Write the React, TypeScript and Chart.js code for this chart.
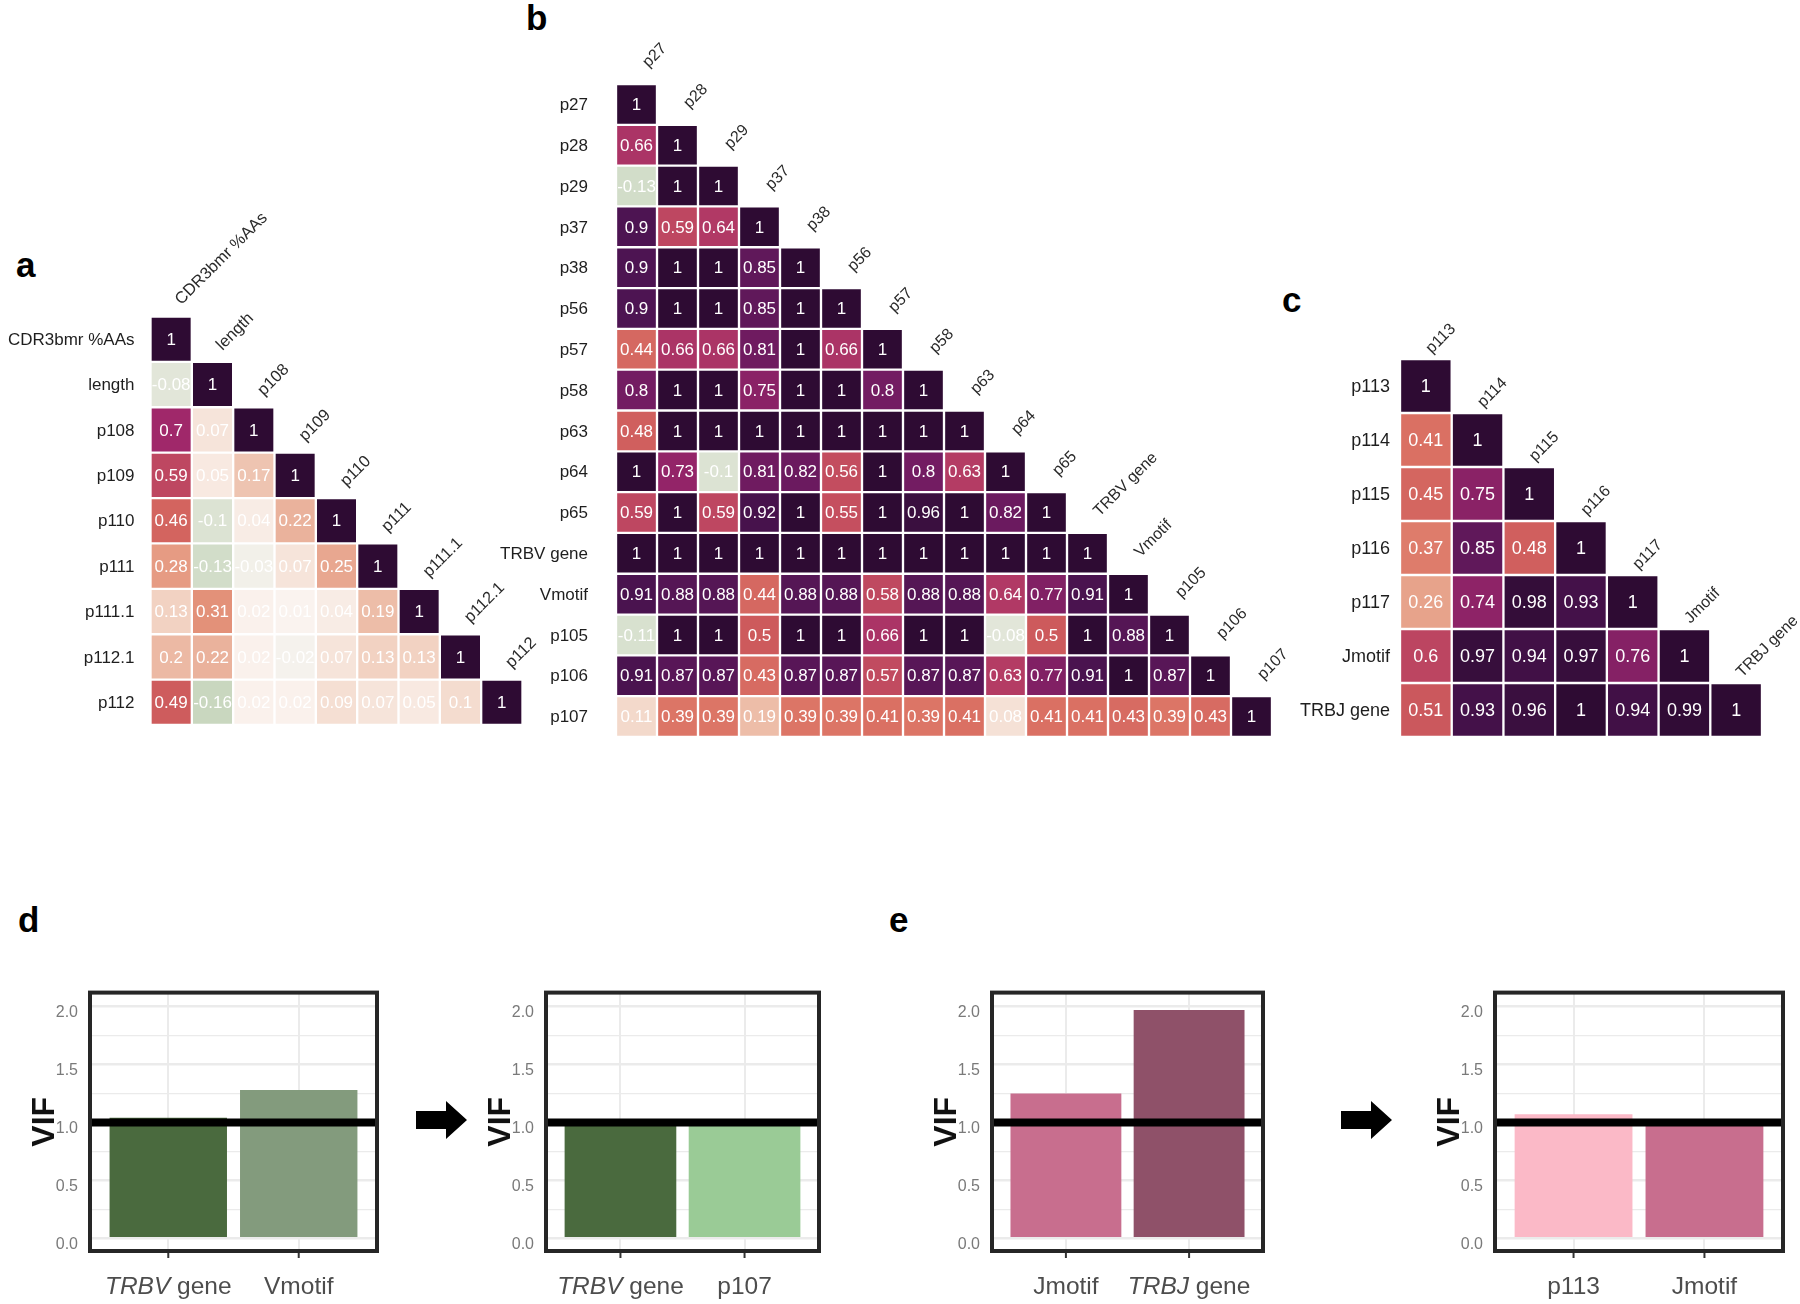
import React, { useEffect, useRef } from 'react';
import { Chart, registerables } from 'chart.js';
Chart.register(...registerables);

const FONT = '"Liberation Sans", Arial, Helvetica, sans-serif';

// ---------- Panel a ----------
const aVars = ['CDR3bmr %AAs', 'length', 'p108', 'p109', 'p110', 'p111', 'p111.1', 'p112.1', 'p112'];
const aCorr = [
  [1],
  [-0.08, 1],
  [0.7, 0.07, 1],
  [0.59, 0.05, 0.17, 1],
  [0.46, -0.1, 0.04, 0.22, 1],
  [0.28, -0.13, -0.03, 0.07, 0.25, 1],
  [0.13, 0.31, 0.02, 0.01, 0.04, 0.19, 1],
  [0.2, 0.22, 0.02, -0.02, 0.07, 0.13, 0.13, 1],
  [0.49, -0.16, 0.02, 0.02, 0.09, 0.07, 0.05, 0.1, 1],
];

// ---------- Panel b ----------
const bVars = ['p27', 'p28', 'p29', 'p37', 'p38', 'p56', 'p57', 'p58', 'p63', 'p64', 'p65', 'TRBV gene', 'Vmotif', 'p105', 'p106', 'p107'];
const bCorr = [
  [1],
  [0.66, 1],
  [-0.13, 1, 1],
  [0.9, 0.59, 0.64, 1],
  [0.9, 1, 1, 0.85, 1],
  [0.9, 1, 1, 0.85, 1, 1],
  [0.44, 0.66, 0.66, 0.81, 1, 0.66, 1],
  [0.8, 1, 1, 0.75, 1, 1, 0.8, 1],
  [0.48, 1, 1, 1, 1, 1, 1, 1, 1],
  [1, 0.73, -0.1, 0.81, 0.82, 0.56, 1, 0.8, 0.63, 1],
  [0.59, 1, 0.59, 0.92, 1, 0.55, 1, 0.96, 1, 0.82, 1],
  [1, 1, 1, 1, 1, 1, 1, 1, 1, 1, 1, 1],
  [0.91, 0.88, 0.88, 0.44, 0.88, 0.88, 0.58, 0.88, 0.88, 0.64, 0.77, 0.91, 1],
  [-0.11, 1, 1, 0.5, 1, 1, 0.66, 1, 1, -0.08, 0.5, 1, 0.88, 1],
  [0.91, 0.87, 0.87, 0.43, 0.87, 0.87, 0.57, 0.87, 0.87, 0.63, 0.77, 0.91, 1, 0.87, 1],
  [0.11, 0.39, 0.39, 0.19, 0.39, 0.39, 0.41, 0.39, 0.41, 0.08, 0.41, 0.41, 0.43, 0.39, 0.43, 1],
];

// ---------- Panel c ----------
const cVars = ['p113', 'p114', 'p115', 'p116', 'p117', 'Jmotif', 'TRBJ gene'];
const cCorr = [
  [1],
  [0.41, 1],
  [0.45, 0.75, 1],
  [0.37, 0.85, 0.48, 1],
  [0.26, 0.74, 0.98, 0.93, 1],
  [0.6, 0.97, 0.94, 0.97, 0.76, 1],
  [0.51, 0.93, 0.96, 1, 0.94, 0.99, 1],
];

// ---------- Panels d / e (VIF) ----------
const dBeforeLabels = ['TRBV gene', 'Vmotif'];
const dBeforeVIF = [1.04, 1.28];
const dAfterLabels = ['TRBV gene', 'p107'];
const dAfterVIF = [1.02, 1.02];
const eBeforeLabels = ['Jmotif', 'TRBJ gene'];
const eBeforeVIF = [1.25, 1.97];
const eAfterLabels = ['p113', 'Jmotif'];
const eAfterVIF = [1.07, 1.02];
const REF_VIF = 1.0;
const ITALIC_WORDS = ['TRBV', 'TRBJ'];

const dBeforeColors = ['#4a6a3e', '#839b7d'];
const dAfterColors = ['#4a6a3e', '#9acb96'];
const eBeforeColors = ['#c86e8e', '#8f5169'];
const eAfterColors = ['#fbb9c7', '#c86e8e'];

const COLOR_STOPS: [number, string][] = [
  [-0.2, '#bccfb2'],
  [0, '#fbf6f3'],
  [0.1, '#f4dccf'],
  [0.2, '#ecb9a4'],
  [0.3, '#e4947b'],
  [0.4, '#db7264'],
  [0.5, '#cd5a5c'],
  [0.6, '#bc4561'],
  [0.7, '#a0286a'],
  [0.8, '#731c62'],
  [0.9, '#4d1452'],
  [1, '#2e0b33'],
];

function hexToRgb(h: string) {
  const n = parseInt(h.slice(1), 16);
  return [(n >> 16) & 255, (n >> 8) & 255, n & 255];
}
function corrColor(v: number) {
  const s = COLOR_STOPS;
  if (v <= s[0][0]) return s[0][1];
  for (let i = 1; i < s.length; i++) {
    if (v <= s[i][0]) {
      const t = (v - s[i - 1][0]) / (s[i][0] - s[i - 1][0]);
      const a = hexToRgb(s[i - 1][1]);
      const b = hexToRgb(s[i][1]);
      const c = a.map((x, k) => Math.round(x + (b[k] - x) * t));
      return `rgb(${c[0]},${c[1]},${c[2]})`;
    }
  }
  return s[s.length - 1][1];
}

type Box = { left: number; top: number; width: number; height: number };
type Area = { left: number; top: number; right: number; bottom: number };
type Style = { value: number; row: number; col: number; rowGap: number; colDx: number; colDy: number };

function Heatmap({ vars, corr, box, area, st }: { vars: string[]; corr: number[][]; box: Box; area: Area; st: Style }) {
  const ref = useRef<HTMLCanvasElement>(null);
  useEffect(() => {
    const data: any[] = [];
    corr.forEach((row, r) => row.forEach((v, c) => data.push({ x: vars[c], y: [r - 0.5, r + 0.5], v })));
    const plugin = {
      id: 'heatText',
      afterDatasetsDraw(chart: any) {
        const ctx = chart.ctx;
        const meta = chart.getDatasetMeta(0);
        const xs = chart.scales.x;
        const ys = chart.scales.y;
        const ca = chart.chartArea;
        ctx.save();
        ctx.fillStyle = '#ffffff';
        ctx.textAlign = 'center';
        ctx.textBaseline = 'middle';
        ctx.font = `${st.value}px ${FONT}`;
        meta.data.forEach((el: any, i: number) => {
          const raw = chart.data.datasets[0].data[i];
          const p = el.getProps(['x', 'y', 'base'], true);
          ctx.fillText(String(raw.v), p.x, (p.y + p.base) / 2 + 1);
        });
        ctx.fillStyle = '#1e1e1e';
        ctx.textAlign = 'right';
        ctx.font = `${st.row}px ${FONT}`;
        vars.forEach((name, r) => ctx.fillText(name, ca.left - st.rowGap, ys.getPixelForValue(r) + 1));
        ctx.fillStyle = '#2a2a2a';
        ctx.font = `${st.col}px ${FONT}`;
        vars.forEach((name, c) => {
          const cx = xs.getPixelForValue(c);
          const top = ys.getPixelForValue(c - 0.5);
          ctx.save();
          ctx.translate(cx + st.colDx, top - st.colDy);
          ctx.rotate(-Math.PI / 4);
          ctx.textAlign = 'left';
          ctx.textBaseline = 'alphabetic';
          ctx.fillText(name, 0, 0);
          ctx.restore();
        });
        ctx.restore();
      },
    };
    const chart = new Chart(ref.current as HTMLCanvasElement, {
      type: 'bar',
      data: {
        labels: vars,
        datasets: [
          {
            data,
            backgroundColor: (c: any) => (c.raw ? corrColor(c.raw.v) : '#fff'),
            borderColor: '#ffffff',
            borderWidth: 1.5,
            borderSkipped: false,
            barPercentage: 1,
            categoryPercentage: 1,
          } as any,
        ],
      },
      options: {
        responsive: false,
        animation: false,
        devicePixelRatio: 1,
        layout: {
          padding: {
            left: area.left - box.left,
            top: area.top - box.top,
            right: box.left + box.width - area.right,
            bottom: box.top + box.height - area.bottom,
          },
        },
        plugins: { legend: { display: false }, tooltip: { enabled: false } },
        scales: {
          x: { type: 'category', offset: true, display: false },
          y: { type: 'linear', min: -0.5, max: vars.length - 0.5, reverse: true, display: false },
        },
      } as any,
      plugins: [plugin],
    });
    return () => chart.destroy();
  }, []);
  return (
    <canvas
      ref={ref}
      width={box.width}
      height={box.height}
      style={{ position: 'absolute', left: box.left, top: box.top, width: box.width, height: box.height }}
    />
  );
}

function VifChart({ labels, values, colors, area }: { labels: string[]; values: number[]; colors: string[]; area: Area }) {
  const ref = useRef<HTMLCanvasElement>(null);
  const yW = 64;
  const xH = 53;
  const pad = 6;
  const box = { left: area.left - yW, top: area.top - pad, width: area.right + pad - (area.left - yW), height: area.bottom + xH - (area.top - pad) };
  useEffect(() => {
    const plugin = {
      id: 'vifDecor',
      afterDatasetsDraw(chart: any) {
        const { ctx, chartArea: ca } = chart;
        const x = chart.scales.x;
        const y = chart.scales.y;
        ctx.save();
        const yr = y.getPixelForValue(REF_VIF);
        ctx.strokeStyle = '#000';
        ctx.lineWidth = 8;
        ctx.beginPath();
        ctx.moveTo(ca.left, yr);
        ctx.lineTo(ca.right, yr);
        ctx.stroke();
        ctx.strokeStyle = '#262626';
        ctx.lineWidth = 4;
        ctx.strokeRect(ca.left, ca.top, ca.right - ca.left, ca.bottom - ca.top);
        labels.forEach((lab, i) => {
          const px = x.getPixelForValue(i);
          ctx.strokeStyle = '#333';
          ctx.lineWidth = 2;
          ctx.beginPath();
          ctx.moveTo(px, ca.bottom + 2);
          ctx.lineTo(px, ca.bottom + 7);
          ctx.stroke();
          const parts = lab.split(' ');
          const italic = ITALIC_WORDS.includes(parts[0]);
          const first = italic ? parts[0] : lab;
          const rest = italic ? ' ' + parts.slice(1).join(' ') : '';
          const fI = `italic 24.5px ${FONT}`;
          const fR = `24.5px ${FONT}`;
          ctx.font = italic ? fI : fR;
          const w1 = ctx.measureText(first).width;
          ctx.font = fR;
          const w2 = rest ? ctx.measureText(rest).width : 0;
          const sx = px - (w1 + w2) / 2;
          const ty = ca.bottom + 36;
          ctx.fillStyle = '#4d4d4d';
          ctx.textBaseline = 'middle';
          ctx.textAlign = 'left';
          ctx.font = italic ? fI : fR;
          ctx.fillText(first, sx, ty);
          if (rest) {
            ctx.font = fR;
            ctx.fillText(rest, sx + w1, ty);
          }
        });
        ctx.restore();
      },
    };
    const chart = new Chart(ref.current as HTMLCanvasElement, {
      type: 'bar',
      data: {
        datasets: [
          {
            data: values.map((v, i) => ({ x: i, y: v })),
            backgroundColor: colors,
            borderWidth: 0,
            barPercentage: 0.9,
            categoryPercentage: 1,
          },
        ],
      },
      options: {
        responsive: false,
        animation: false,
        devicePixelRatio: 1,
        layout: { padding: { left: 0, top: pad, right: pad, bottom: 0 } },
        plugins: { legend: { display: false }, tooltip: { enabled: false } },
        scales: {
          x: {
            type: 'linear',
            min: -0.6,
            max: labels.length - 1 + 0.6,
            offset: false,
            grid: { offset: false, color: '#ebebeb', lineWidth: 2, drawTicks: false },
            border: { display: false },
            ticks: { display: false, stepSize: 1, includeBounds: false },
            afterFit: (s: any) => {
              s.height = xH;
            },
          },
          y: {
            type: 'linear',
            min: -0.11,
            max: 2.12,
            border: { display: false },
            grid: {
              drawTicks: false,
              color: '#ebebeb',
              lineWidth: (c: any) => (c.tick && Math.abs((c.tick.value * 2) % 1) < 1e-6 ? 2.5 : 1.2),
            },
            ticks: {
              stepSize: 0.25,
              includeBounds: false,
              padding: 12,
              labelOffset: 6,
              color: '#7a7a7a',
              font: { size: 16, family: FONT },
              callback: (v: any) => (Math.abs((v * 2) % 1) < 1e-6 ? Number(v).toFixed(1) : ''),
            },
            title: {
              display: true,
              text: 'VIF',
              color: '#111',
              padding: 0,
              font: { size: 32, weight: 'bold', family: FONT },
            },
            afterFit: (s: any) => {
              s.width = yW;
            },
          },
        },
      } as any,
      plugins: [plugin],
    });
    return () => chart.destroy();
  }, []);
  return (
    <canvas
      ref={ref}
      width={box.width}
      height={box.height}
      style={{ position: 'absolute', left: box.left, top: box.top, width: box.width, height: box.height }}
    />
  );
}

function Arrow({ x }: { x: number }) {
  const pts = [
    [x, 1111],
    [x + 30, 1111],
    [x + 30, 1101],
    [x + 51, 1120],
    [x + 30, 1139],
    [x + 30, 1129],
    [x, 1129],
  ]
    .map((p) => p.join(','))
    .join(' ');
  return <polygon points={pts} fill="#000" />;
}

export default function App() {
  const letterStyle = { fontFamily: FONT, fontWeight: 'bold', fontSize: 35, fill: '#000' } as any;
  return (
    <div style={{ position: 'absolute', left: 0, top: 0, width: 1800, height: 1304, background: '#fff', overflow: 'hidden' }}>
      <svg width={1800} height={1304} style={{ position: 'absolute', left: 0, top: 0 }}>
        <text x={16} y={277} style={letterStyle}>a</text>
        <text x={526} y={30} style={letterStyle}>b</text>
        <text x={1282} y={312} style={letterStyle}>c</text>
        <text x={18} y={932} style={letterStyle}>d</text>
        <text x={889} y={932} style={letterStyle}>e</text>
        <Arrow x={416} />
        <Arrow x={1341} />
      </svg>
      <Heatmap
        vars={aVars}
        corr={aCorr}
        box={{ left: 0, top: 170, width: 560, height: 570 }}
        area={{ left: 150.5, top: 316.5, right: 522.5, bottom: 725 }}
        st={{ value: 17, row: 17, col: 16.5, rowGap: 16, colDx: 10, colDy: 11 }}
      />
      <Heatmap
        vars={bVars}
        corr={bCorr}
        box={{ left: 470, top: 20, width: 860, height: 730 }}
        area={{ left: 616, top: 84, right: 1272, bottom: 737 }}
        st={{ value: 17, row: 17, col: 16, rowGap: 28, colDx: 12, colDy: 16 }}
      />
      <Heatmap
        vars={cVars}
        corr={cCorr}
        box={{ left: 1270, top: 290, width: 530, height: 460 }}
        area={{ left: 1400, top: 359, right: 1762, bottom: 737 }}
        st={{ value: 18, row: 18, col: 16, rowGap: 10, colDx: 6, colDy: 5 }}
      />
      <VifChart labels={dBeforeLabels} values={dBeforeVIF} colors={dBeforeColors} area={{ left: 90, top: 977, right: 377, bottom: 1251 }} />
      <VifChart labels={dAfterLabels} values={dAfterVIF} colors={dAfterColors} area={{ left: 546, top: 977, right: 819, bottom: 1251 }} />
      <VifChart labels={eBeforeLabels} values={eBeforeVIF} colors={eBeforeColors} area={{ left: 992, top: 977, right: 1263, bottom: 1251 }} />
      <VifChart labels={eAfterLabels} values={eAfterVIF} colors={eAfterColors} area={{ left: 1495, top: 977, right: 1783, bottom: 1251 }} />
    </div>
  );
}
